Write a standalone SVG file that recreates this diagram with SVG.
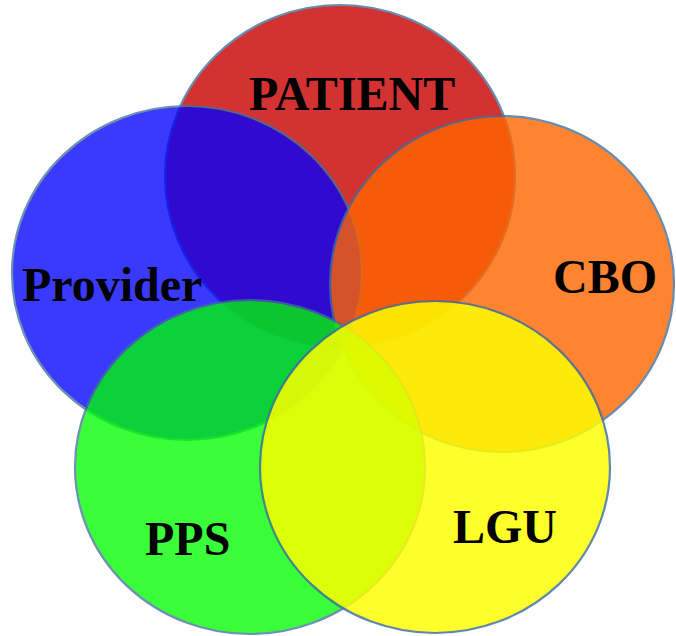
<svg xmlns="http://www.w3.org/2000/svg" width="676" height="636" viewBox="0 0 676 636">
<style>
.c{stroke:#41719c;stroke-width:2.2}
.t{font-family:"Liberation Serif","Times New Roman",serif;font-weight:bold;font-size:48px;fill:#000}
</style>
<rect width="676" height="636" fill="#fefefe"/>
<g id="patient" opacity="0.8"><ellipse class="c" cx="340" cy="176" rx="175" ry="171" fill="#c80000"/></g>
<g id="provider" opacity="0.77"><ellipse class="c" cx="187" cy="273" rx="175" ry="167" fill="#0000ff"/></g>
<g id="cbo" opacity="0.8"><ellipse class="c" cx="502" cy="284" rx="172" ry="168" fill="#ff6600"/></g>
<g id="pps" opacity="0.77"><ellipse class="c" cx="250" cy="467" rx="175" ry="167" fill="#00ff00"/></g>
<g id="lgu" opacity="0.83"><ellipse class="c" cx="435" cy="467" rx="175" ry="166" fill="#ffff00"/></g>
<g id="labels">
<text class="t" x="249" y="110">PATIENT</text>
<text class="t" x="22" y="301">Provider</text>
<text class="t" x="553" y="293">CBO</text>
<text class="t" x="145" y="555">PPS</text>
<text class="t" x="453" y="543">LGU</text>
</g>
<g id="connectors"></g>
</svg>
